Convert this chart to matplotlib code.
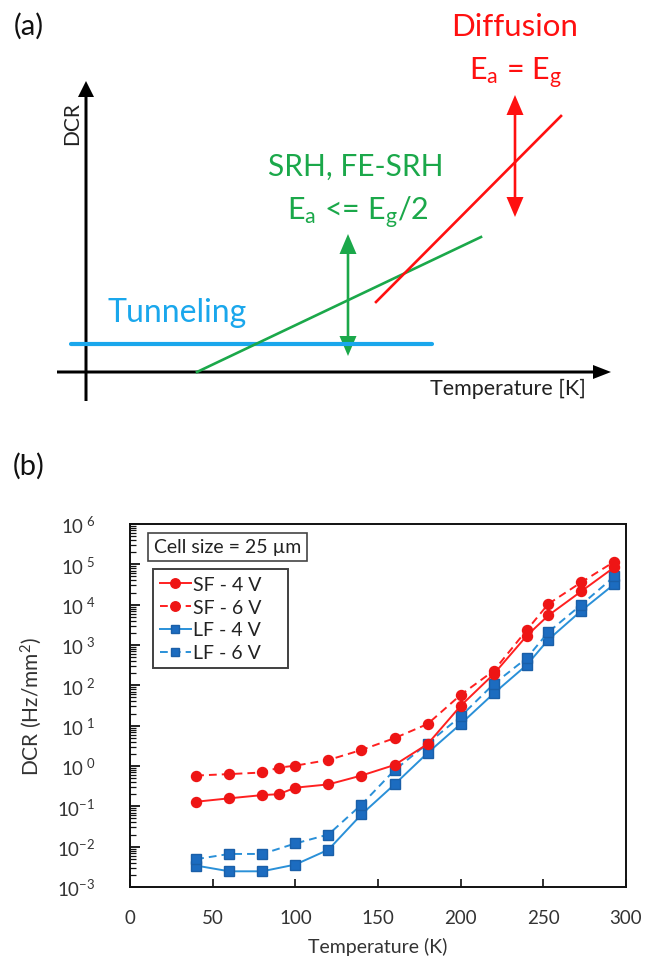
import matplotlib
matplotlib.use("Agg")
import matplotlib.pyplot as plt
from matplotlib.ticker import LogLocator, FixedLocator, NullFormatter
import numpy as np

plt.rcParams['font.family'] = ['Lato', 'DejaVu Sans']
plt.rcParams['mathtext.fontset'] = 'custom'
plt.rcParams['mathtext.rm'] = 'Lato'
plt.rcParams['mathtext.it'] = 'Lato:italic'
plt.rcParams['mathtext.bf'] = 'Lato:bold'
plt.rcParams['mathtext.default'] = 'regular'

# ---------------- data: panel (b) ----------------
T_sf = [40, 60, 80, 90, 100, 120, 140, 160, 180, 200, 220, 240, 253, 273, 293]
sf_4v = [0.13, 0.158, 0.19, 0.20, 0.29, 0.35, 0.58, 1.06, 3.5, 31, 190, 1700, 5400, 21500, 85000]
sf_6v = [0.58, 0.63, 0.69, 0.91, 1.02, 1.41, 2.5, 4.9, 11, 58, 230, 2350, 10400, 36000, 117000]
T_lf = [40, 60, 80, 100, 120, 140, 160, 180, 200, 220, 240, 253, 273, 293]
lf_4v = [0.0034, 0.00245, 0.00245, 0.0036, 0.0084, 0.063, 0.35, 2.1, 11, 63, 320, 1350, 7100, 32500]
lf_6v = [0.0049, 0.0066, 0.0066, 0.012, 0.020, 0.11, 0.79, 3.6, 17, 108, 475, 2080, 10000, 50000]
x_ticks = [0, 50, 100, 150, 200, 250, 300]
y_exponents = [-3, -2, -1, 0, 1, 2, 3, 4, 5, 6]
series_labels = ["SF - 4 V", "SF - 6 V", "LF - 4 V", "LF - 6 V"]

# ---------------- data: panel (a) schematic (pixel units) ----------------
tunnel_x = [71, 432]
tunnel_y = [345, 345]
srh_x = [197, 481]
srh_y = [373, 238]
diff_x = [376, 561]
diff_y = [303, 117]
srh_arrow_x = 348
srh_arrow_y = [235, 357]
diff_arrow_x = 515
diff_arrow_y = [96, 218]

W, H = 654, 962
fig = plt.figure(figsize=(W / 100, H / 100), dpi=100)

# ================= panel (a) =================
top_h = 420
axa = fig.add_axes([0, 1 - top_h / H, 1, top_h / H])
axa.set_xlim(0, W)
axa.set_ylim(top_h, 0)
axa.axis('off')

black = '#000000'
axa.arrow(86, 402, 0, 82 - 402, width=3, head_width=16, head_length=16,
          length_includes_head=True, color=black, lw=0)
axa.arrow(57, 373, 611 - 57, 0, width=3, head_width=14, head_length=18,
          length_includes_head=True, color=black, lw=0)

blue_c = '#1AA7EC'
green_c = '#1BA84A'
red_c = '#FF1010'
axa.plot(tunnel_x, tunnel_y, color=blue_c, lw=3.0, solid_capstyle='round')
axa.plot(srh_x, srh_y, color=green_c, lw=1.9)
axa.plot(diff_x, diff_y, color=red_c, lw=1.9)


def dbl_arrow(x, y0, y1, c):
    mid = (y0 + y1) / 2
    for yy in (y0, y1):
        axa.arrow(x, mid, 0, yy - mid, width=2.6, head_width=17, head_length=20,
                  length_includes_head=True, color=c, lw=0)


dbl_arrow(srh_arrow_x, srh_arrow_y[0], srh_arrow_y[1], green_c)
dbl_arrow(diff_arrow_x, diff_arrow_y[0], diff_arrow_y[1], red_c)

axa.text(29, 26, "(a)", fontsize=21, ha='center', va='center', color='#111111')
axa.text(72, 124, "DCR", fontsize=15, rotation=90, ha='center', va='center', color='#222222')
axa.text(586, 395, "Temperature [K]", fontsize=15.5, ha='right', va='baseline', color='#222222')
axa.text(108, 322, "Tunneling", fontsize=23, ha='left', va='baseline', color=blue_c)
axa.text(356, 176, "SRH, FE-SRH", fontsize=21.5, ha='center', va='baseline', color=green_c)
axa.text(358, 220, "E$_a$ <= E$_g$/2", fontsize=22, ha='center', va='baseline', color=green_c)
axa.text(515, 36, "Diffusion", fontsize=22.5, ha='center', va='baseline', color=red_c)
axa.text(516, 80, "E$_a$ = E$_g$", fontsize=22, ha='center', va='baseline', color=red_c)

# ================= panel (b) =================
fig.text(29 / W, 1 - 466 / H, "(b)", fontsize=21, ha='center', va='center', color='#111111')

left, right, top, bottom = 130, 626, 525, 888
axb = fig.add_axes([left / W, 1 - bottom / H, (right - left) / W, (bottom - top) / H])
axb.set_yscale('log')
axb.set_xlim(0, 300)
axb.set_ylim(1e-3, 1e6)

red_line = '#FF2020'
red_mk = '#EE1515'
blue_line = '#2A90D8'
blue_mk = '#1C6CC0'
blue_edge = '#1A5FA8'

axb.plot(T_sf, sf_4v, '-', color=red_line, lw=1.4, marker='o', ms=7.2,
         mfc=red_mk, mec=red_mk, label=series_labels[0], zorder=4)
axb.plot(T_sf, sf_6v, '--', color=red_line, lw=1.4, dashes=(4, 2.6), marker='o', ms=7.2,
         mfc=red_mk, mec=red_mk, label=series_labels[1], zorder=4)
axb.plot(T_lf, lf_4v, '-', color=blue_line, lw=1.4, marker='s', ms=6.6,
         mfc=blue_mk, mec=blue_edge, label=series_labels[2], zorder=3)
axb.plot(T_lf, lf_6v, '--', color=blue_line, lw=1.4, dashes=(4, 2.6), marker='s', ms=6.6,
         mfc=blue_mk, mec=blue_edge, label=series_labels[3], zorder=3)

for sp in axb.spines.values():
    sp.set_linewidth(1.4)
    sp.set_color('#111111')

axb.xaxis.set_major_locator(FixedLocator(x_ticks))
axb.set_xticklabels([str(v) for v in x_ticks])
axb.yaxis.set_major_locator(FixedLocator([10.0 ** e for e in y_exponents]))
axb.set_yticklabels([r'$10^{\ %d}$' % e if e >= 0 else r'$10^{%d}$' % e for e in y_exponents])
axb.yaxis.set_minor_locator(LogLocator(base=10, subs=np.arange(2, 10), numticks=100))
axb.yaxis.set_minor_formatter(NullFormatter())
axb.tick_params(axis='y', which='major', direction='in', length=7, width=1.3,
                labelsize=13.5, pad=25, colors='#111111', labelcolor='#333333')
axb.tick_params(axis='y', which='minor', direction='in', length=4, width=0.9, colors='#111111')
axb.tick_params(axis='x', which='major', direction='in', length=6, width=1.2,
                labelsize=13.5, pad=16, colors='#111111', labelcolor='#333333')
axb.tick_params(axis='x', which='minor', bottom=False)

axb.set_xlabel("Temperature (K)", fontsize=14, color='#333333', labelpad=8)
axb.set_ylabel("DCR (Hz/mm$^2$)", fontsize=15, color='#333333', labelpad=9)

legend_labels = [s + "    " for s in series_labels]
handles = axb.get_lines()
leg = axb.legend(handles, legend_labels, loc='upper left', bbox_to_anchor=(0.046, 0.876),
                 borderaxespad=0, fontsize=14, frameon=True, fancybox=False,
                 handlelength=1.6, handletextpad=0.1, labelspacing=0.3, borderpad=0.35,
                 markerscale=0.95)
leg.get_frame().set_edgecolor('#111111')
leg.get_frame().set_linewidth(1.4)
for t in leg.get_texts():
    t.set_color('#222222')

axb.text(0.048, 0.937, "Cell size = 25 µm", transform=axb.transAxes, fontsize=14,
         ha='left', va='center', color='#222222',
         bbox=dict(boxstyle='square,pad=0.3', fc='white', ec='#444444', lw=1.2))

fig.savefig("out.png", dpi=100)
